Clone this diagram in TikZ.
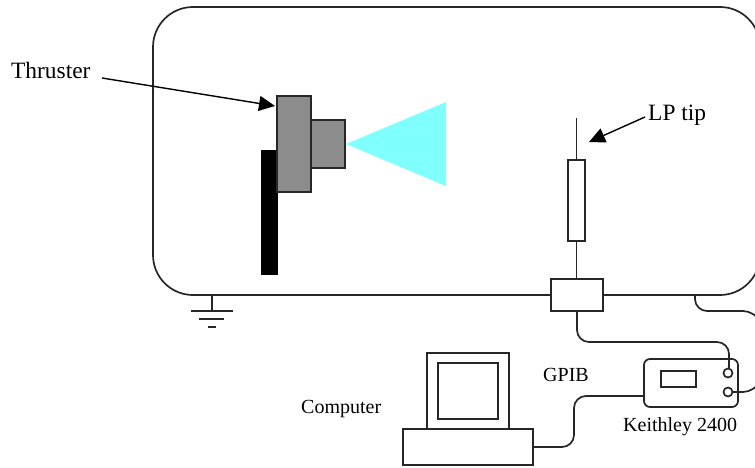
\documentclass[tikz,border=0pt]{standalone}
\usepackage{fontspec}
\setmainfont{Liberation Serif}
\usetikzlibrary{positioning,arrows.meta}
\definecolor{plume}{RGB}{128,255,255}
\definecolor{thrustergray}{RGB}{140,140,140}

\begin{document}
\begin{tikzpicture}[
    x=1pt,
    y=-1pt,
    part/.style={
        rectangle,
        draw=black!85,
        line width=1.7pt,
        fill=white,
        inner sep=0pt
    },
    thrusterpart/.style={
        part,
        fill=thrustergray
    },
    wire/.style={
        line width=1.7pt,
        draw=black!85
    },
    cable/.style={
        wire,
        rounded corners=12pt
    },
    pointer/.style={
        -{Triangle[length=16pt,width=15pt]},
        line width=1.4pt,
        draw=black
    },
    port/.style={
        circle,
        draw=black!85,
        line width=1.7pt,
        fill=white,
        minimum size=9pt,
        inner sep=0pt
    },
    caption/.style={
        font=\fontsize{20}{24}\selectfont,
        inner sep=0pt,
        anchor=base west
    },
    bigcaption/.style={
        font=\fontsize{23.4}{27}\selectfont,
        inner sep=0pt,
        anchor=base west
    }
]

% Fixes the page, the chamber runs off on the right
\clip (0,0) rectangle (755,468);

% Vacuum chamber
\node[part, rounded corners=40pt, minimum width=607pt, minimum height=288pt] (chamber) at (456.5,151) {};

% Ground
\coordinate (groundtop) at (212,295);
\coordinate (groundbar) at (212,311);
\draw[wire] (groundtop) -- (groundbar);
\draw[wire] (191,311) -- (233,311);
\draw[wire] (199,319) -- (224,319);
\draw[wire] (208,327) -- (216,327);

% Thruster and its stand
\node[rectangle, fill=black, inner sep=0pt, minimum width=17pt, minimum height=125pt] (stand) at (269.5,212.5) {};
\node[thrusterpart, minimum width=34pt, minimum height=96pt] (body) at (294,144) {};
\node[thrusterpart, minimum width=34pt, minimum height=48pt] (nozzle) at (328,144) {};
\fill[plume] (346,144) -- (446,102) -- (446,186) -- cycle;

% Labels
\node[bigcaption] (thrusterlabel) at (11,79) {Thruster};
\node[bigcaption] (tiplabel) at (648,121) {LP tip};
\node[caption] (gpiblabel) at (543,381) {GPIB};
\node[caption] (computerlabel) at (301,413) {Computer};
\node[caption] (keithleylabel) at (623,431) {Keithley 2400};

% Arrows to the thruster and the probe tip
\coordinate (thrustertail) at (102,78);
\coordinate (thrustertip) at (275,106);
\coordinate (tiptail) at (645,117);
\coordinate (tippoint) at (589,142);
\draw[pointer] (thrustertail) -- (thrustertip);
\draw[pointer] (tiptail) -- (tippoint);

% Probe
\node[part, minimum width=17pt, minimum height=81pt] (holder) at (576.5,200.5) {};
\node[part, minimum width=52pt, minimum height=32pt] (feedthrough) at (577,295) {};
\coordinate (probeend) at (576.5,118);
\draw[wire] (probeend) -- (holder.north);
\draw[wire] (holder.south) -- (feedthrough.north -| holder.south);

% Computer
\node[part, minimum width=82pt, minimum height=76pt] (monitor) at (468,391) {};
\node[part, minimum width=60pt, minimum height=56pt] (screen) at (468,391) {};
\node[part, minimum width=130pt, minimum height=36pt] (base) at (468,447) {};

% Keithley 2400
\node[part, rounded corners=6pt, minimum width=94pt, minimum height=48pt] (keithley) at (691,383) {};
\node[part, minimum width=35pt, minimum height=16pt] (display) at (678.5,379) {};

% Cables
\coordinate (chamberlead) at (695,296);
\coordinate (leadend) at (765,330);
\coordinate (portend) at (765,372);
\draw[cable] (feedthrough.south) |- (729,342) -- (729,369);
\draw[cable] (base.east) -- (574,447) -- (574,396) -- (keithley.west |- 0,396);
\draw[cable] (chamberlead) |- (755,311) -- (leadend);
\draw[cable] (728,392) -- (755,392) -- (portend);

% Ports on top of the cables
\node[port] (port1) at (728,373) {};
\node[port] (port2) at (728,392) {};

\end{tikzpicture}
\end{document}
